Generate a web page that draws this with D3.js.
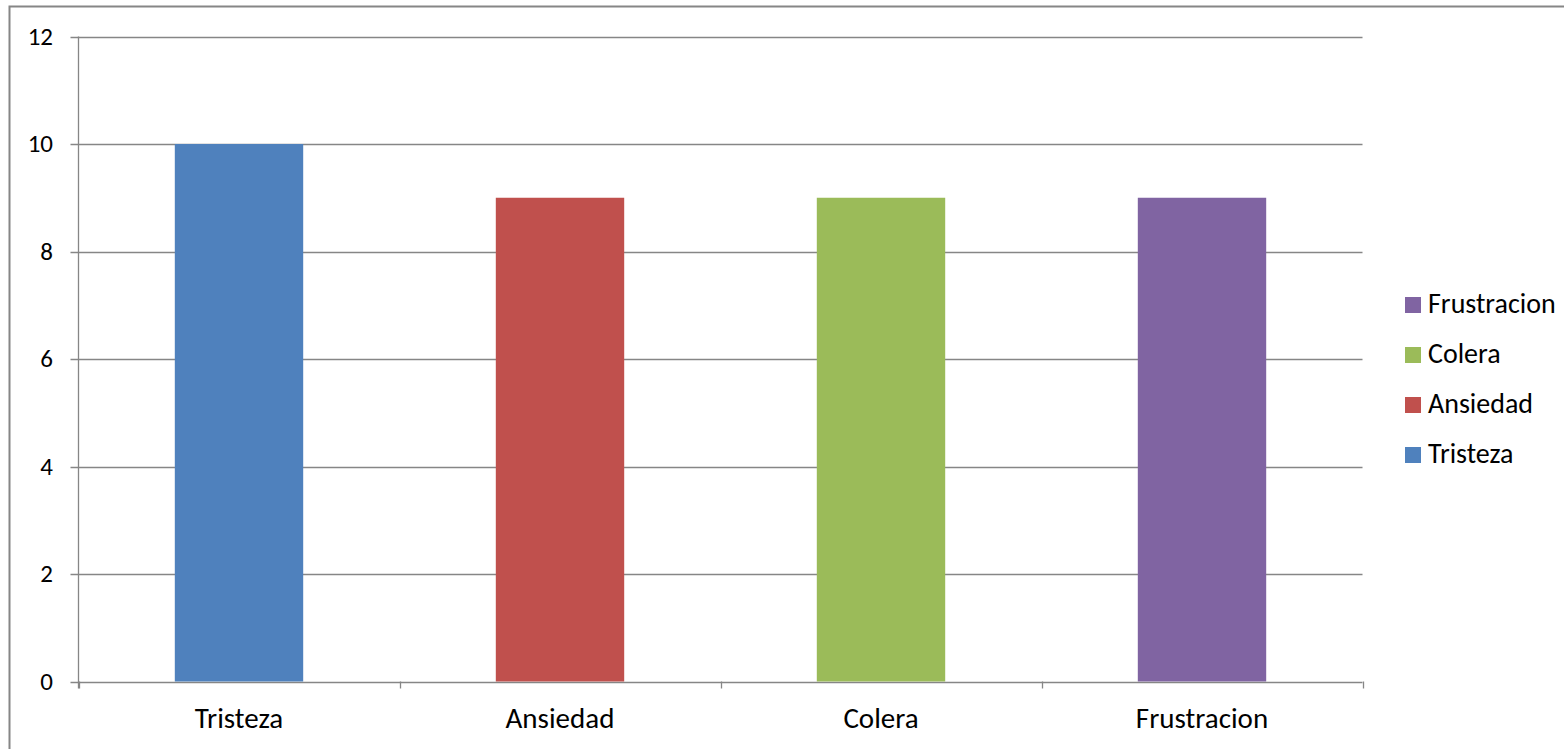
<!DOCTYPE html>
<head>
  <meta charset="utf-8">
  <script src="https://d3js.org/d3.v7.min.js"></script>
  <style>
  body,html {margin:0; background:#fff; font-family:Carlito, "Open Sans", "Liberation Sans", sans-serif;}
  </style>
</head>
<body>
<script>
  // data
  const categories = ["Tristeza", "Ansiedad", "Colera", "Frustracion"];
  const values = [10, 9, 9, 9];
  const colors = ["#4F81BD", "#C0504D", "#9BBB59", "#8064A2"];
  const yTicks = [0, 2, 4, 6, 8, 10, 12];

  const width = 1564, height = 749;
  const plotLeft = 78.5, plotRight = 1362.5, plotTop = 36.5, plotBottom = 681.5;
  const gridColor = "#868686";

  const svg = d3.select("body").append("svg")
    .attr("width", width)
    .attr("height", height);

  // outer frame
  svg.append("rect")
    .attr("x", 9.5).attr("y", 6.5)
    .attr("width", width + 20).attr("height", height + 20)
    .attr("fill", "none").attr("stroke", gridColor).attr("stroke-width", 2);

  const x = d3.scaleBand().domain(categories).range([plotLeft, plotRight])
    .paddingInner(0.6).paddingOuter(0.3);
  const y = d3.scaleLinear().domain([0, 12]).range([plotBottom, plotTop]);

  // gridlines + y ticks
  svg.selectAll(".grid").data(yTicks).enter().append("line")
    .attr("x1", plotLeft - 8).attr("x2", plotRight)
    .attr("y1", d => Math.round(y(d)) + 0.5).attr("y2", d => Math.round(y(d)) + 0.5)
    .attr("stroke", gridColor).attr("stroke-width", 1.3);

  svg.selectAll(".ylab").data(yTicks).enter().append("text")
    .attr("x", 53).attr("y", d => y(d) + 8)
    .attr("text-anchor", "end")
    .attr("font-size", 25).attr("fill", "#000")
    .text(d => d);

  // bars
  svg.selectAll(".bar").data(values).enter().append("rect")
    .attr("x", (d, i) => x(categories[i]))
    .attr("width", x.bandwidth())
    .attr("y", d => y(d))
    .attr("height", d => y(0) - y(d))
    .attr("fill", (d, i) => colors[i]);

  // y axis line
  svg.append("line")
    .attr("x1", plotLeft).attr("x2", plotLeft).attr("y1", plotTop).attr("y2", plotBottom + 7)
    .attr("stroke", gridColor).attr("stroke-width", 1.3);

  // x axis tick marks at band boundaries
  const bounds = d3.range(categories.length + 1).map(i => plotLeft + i * (plotRight - plotLeft) / categories.length);
  svg.selectAll(".xt").data(bounds).enter().append("line")
    .attr("x1", d => Math.round(d) + 0.5).attr("x2", d => Math.round(d) + 0.5)
    .attr("y1", plotBottom).attr("y2", plotBottom + 7)
    .attr("stroke", gridColor).attr("stroke-width", 1.3);

  svg.selectAll(".xlab").data(categories).enter().append("text")
    .attr("x", d => x(d) + x.bandwidth() / 2)
    .attr("y", 728)
    .attr("text-anchor", "middle").attr("font-size", 29).attr("fill", "#000")
    .text(d => d);

  // legend (reversed order)
  const legendItems = categories.map((c, i) => ({name: c, color: colors[i]})).reverse();
  const lg = svg.selectAll(".lg").data(legendItems).enter().append("g")
    .attr("transform", (d, i) => `translate(1405, ${305 + i * 50})`);
  lg.append("rect").attr("x", 0).attr("y", -8).attr("width", 16).attr("height", 16)
    .attr("fill", d => d.color);
  lg.append("text").attr("x", 23).attr("y", 8)
    .attr("font-size", 28).attr("fill", "#000")
    .text(d => d.name);
</script>
</body>
